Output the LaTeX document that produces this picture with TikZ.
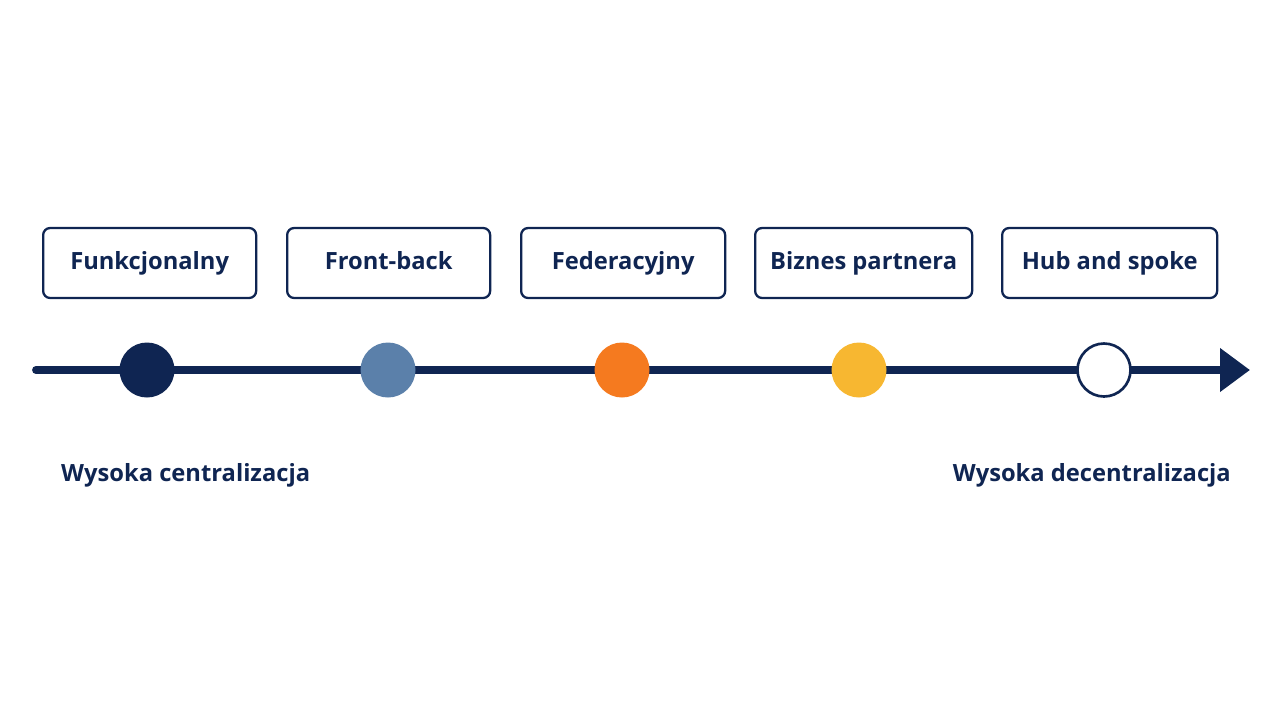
\documentclass[tikz,border=0pt]{standalone}
\usepackage{fontspec}
\setmainfont{Open Sans}
\usetikzlibrary{arrows.meta}
\definecolor{navy}{HTML}{0F2552}
\definecolor{steel}{HTML}{5B80AA}
\definecolor{orng}{HTML}{F57A1F}
\definecolor{yell}{HTML}{F7B731}
\begin{document}
\begin{tikzpicture}[x=0.02cm,y=-0.02cm,
  box/.style={draw=navy,line width=1.3pt,rounded corners=4pt,minimum height=70*0.02cm,text=navy,font=\fontsize{13.5}{16}\selectfont\bfseries,anchor=west,inner sep=0pt,text height=10pt,text depth=3pt},
  dot/.style={circle,minimum size=55*0.02cm,inner sep=0pt},
  lbl/.style={text=navy,font=\fontsize{13.5}{16}\selectfont\bfseries}]
\useasboundingbox (0,0) rectangle (1280,720);
\node[box,minimum width=213*0.02cm] (b1) at (42,263) {Funkcjonalny};
\node[box,minimum width=203*0.02cm] (b2) at (286,263) {Front-back};
\node[box,minimum width=204*0.02cm] (b3) at (520,263) {Federacyjny};
\node[box,minimum width=217*0.02cm] (b4) at (754,263) {Biznes partnera};
\node[box,minimum width=215*0.02cm] (b5) at (1001,263) {Hub and spoke};
\coordinate (s) at (36,370);
\coordinate (e) at (1250,370);
\draw[navy,line width=4.5pt,line cap=round,-{Triangle[length=30*0.02cm,width=42*0.02cm]}] (s) -- (e);
\node[dot,fill=navy] (c1) at (147,370) {};
\node[dot,fill=steel] (c2) at (388,370) {};
\node[dot,fill=orng] (c3) at (622,370) {};
\node[dot,fill=yell] (c4) at (859,370) {};
\node[dot,fill=white,draw=navy,line width=1.5pt,minimum size=53*0.02cm] (c5) at (1104,370) {};
\node[lbl,anchor=west] (l1) at (55,475) {Wysoka centralizacja};
\node[lbl,anchor=east] (l2) at (1237,475) {Wysoka decentralizacja};
\end{tikzpicture}
\end{document}
